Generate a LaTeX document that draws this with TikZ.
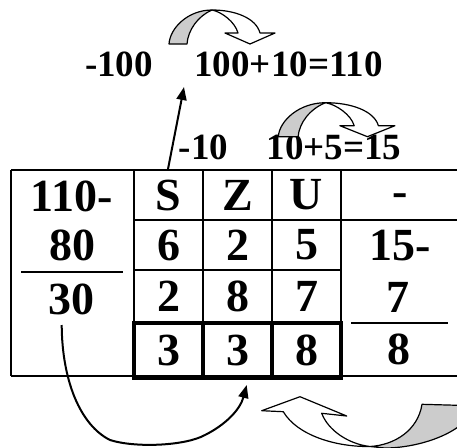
\documentclass[tikz,border=0pt]{standalone}
\usepackage{fontspec}
\setmainfont{Liberation Serif}
\usetikzlibrary{arrows.meta}
\begin{document}
\begin{tikzpicture}[x=1pt,y=-1pt,
  big/.style={font=\bfseries\fontsize{46}{50}\selectfont, inner sep=0pt},
  lbl/.style={font=\bfseries\fontsize{37}{41}\selectfont, inner sep=0pt},
  tline/.style={line width=2pt},
  thickbox/.style={line width=4.8pt},
  blk/.style={draw=black, line width=1.2pt, line join=round},
  conn/.style={line width=2pt, -{Triangle[length=13pt,width=10pt]}},
  bendarrow/.pic={
    \filldraw[blk, fill=black!20] (0,0) .. controls (1,-16) and (19,-34) .. (43,-34)
      .. controls (29,-28) and (19,-14) .. (18,0) -- cycle;
    \filldraw[blk, fill=white] (43,-34) .. controls (66,-34) and (87,-26) .. (91,-11)
      -- (106,-11) -- (81,0) -- (56,-11) -- (69,-11)
      .. controls (66,-22) and (53,-32) .. (43,-34) -- cycle;
  }
]
\useasboundingbox (0,0) rectangle (457,447);

% table lines
\draw[tline] (11,170) -- (457,170);
\draw[tline] (11,376) -- (457,376);
\draw[tline] (11,170) -- (11,376);
\draw[tline] (134,170) -- (134,376);
\draw[tline] (203,170) -- (203,323);
\draw[tline] (272,170) -- (272,323);
\draw[tline] (341,170) -- (341,376);
\draw[tline] (134,220) -- (457,220);
\draw[tline] (134,270) -- (341,270);
\draw[tline] (21,271.7) -- (123,271.7);
\draw[tline] (351,323.3) -- (448,323.3);
\draw[thickbox] (134,323) rectangle (203,378);
\draw[thickbox] (203,323) rectangle (272,378);
\draw[thickbox] (272,323) rectangle (341,378);

% table texts
\node[big] (l1) at (71.5,196) {110-};
\node[big] (l2) at (72.5,245) {80};
\node[big] (l3) at (71,299.5) {30};
\node[big] (hS) at (168.5,195) {S};
\node[big] (hZ) at (237.5,195) {Z};
\node[big] (hU) at (306.5,195) {U};
\node[big] (a1) at (168.5,245) {6};
\node[big] (a2) at (237.5,245) {2};
\node[big] (a3) at (306.5,245) {5};
\node[big] (b1) at (168.5,296.5) {2};
\node[big] (b2) at (237.5,296.5) {8};
\node[big] (b3) at (306.5,296.5) {7};
\node[big] (c1) at (168.5,350) {3};
\node[big] (c2) at (237.5,350) {3};
\node[big] (c3) at (306.5,350) {8};
\node[big] (r1) at (400,200) {-};
\node[big] (r2) at (400,246) {15-};
\node[big] (r3) at (398,297) {7};
\node[big] (r4) at (398.5,349) {8};

% labels above
\node[lbl] (m100) at (119,64) {-100};
\node[lbl] (sum1) at (288.5,64) {100+10=110};
\node[lbl] (m10) at (203.5,147) {-10};
\node[lbl] (sum2) at (334,147) {10+5=15};

% connectors
\coordinate (sfoot) at (168,169);
\coordinate (stip) at (184,87);
\draw[conn] (sfoot) -- (stip);
\coordinate (tstart) at (61.7,325);
\coordinate (ttip) at (246.7,385);
\draw[conn] (tstart) .. controls (62,380) and (80,425) .. (110,440)
  .. controls (135,448) and (185,446) .. (205,435)
  .. controls (225,425) and (240,410) .. (ttip);

% curved block arrows
\pic at (169,44) {bendarrow};
\pic[xscale=1.1] at (278.3,136.7) {bendarrow};

\filldraw[blk, fill=black!20] (370,446.5) .. controls (395,445) and (418,430) .. (422,404.3)
  -- (458,405.3) -- (458,427) .. controls (440,440) and (410,448) .. (385,448) -- cycle;
\filldraw[blk, fill=white] (321.7,413.3) -- (346.7,416) -- (300,396.7) -- (261.7,410.7)
  -- (283.3,411.7) .. controls (297,435) and (335,447) .. (370,446.5)
  .. controls (348,444) and (328,430) .. (321.7,413.3) -- cycle;
\end{tikzpicture}
\end{document}
